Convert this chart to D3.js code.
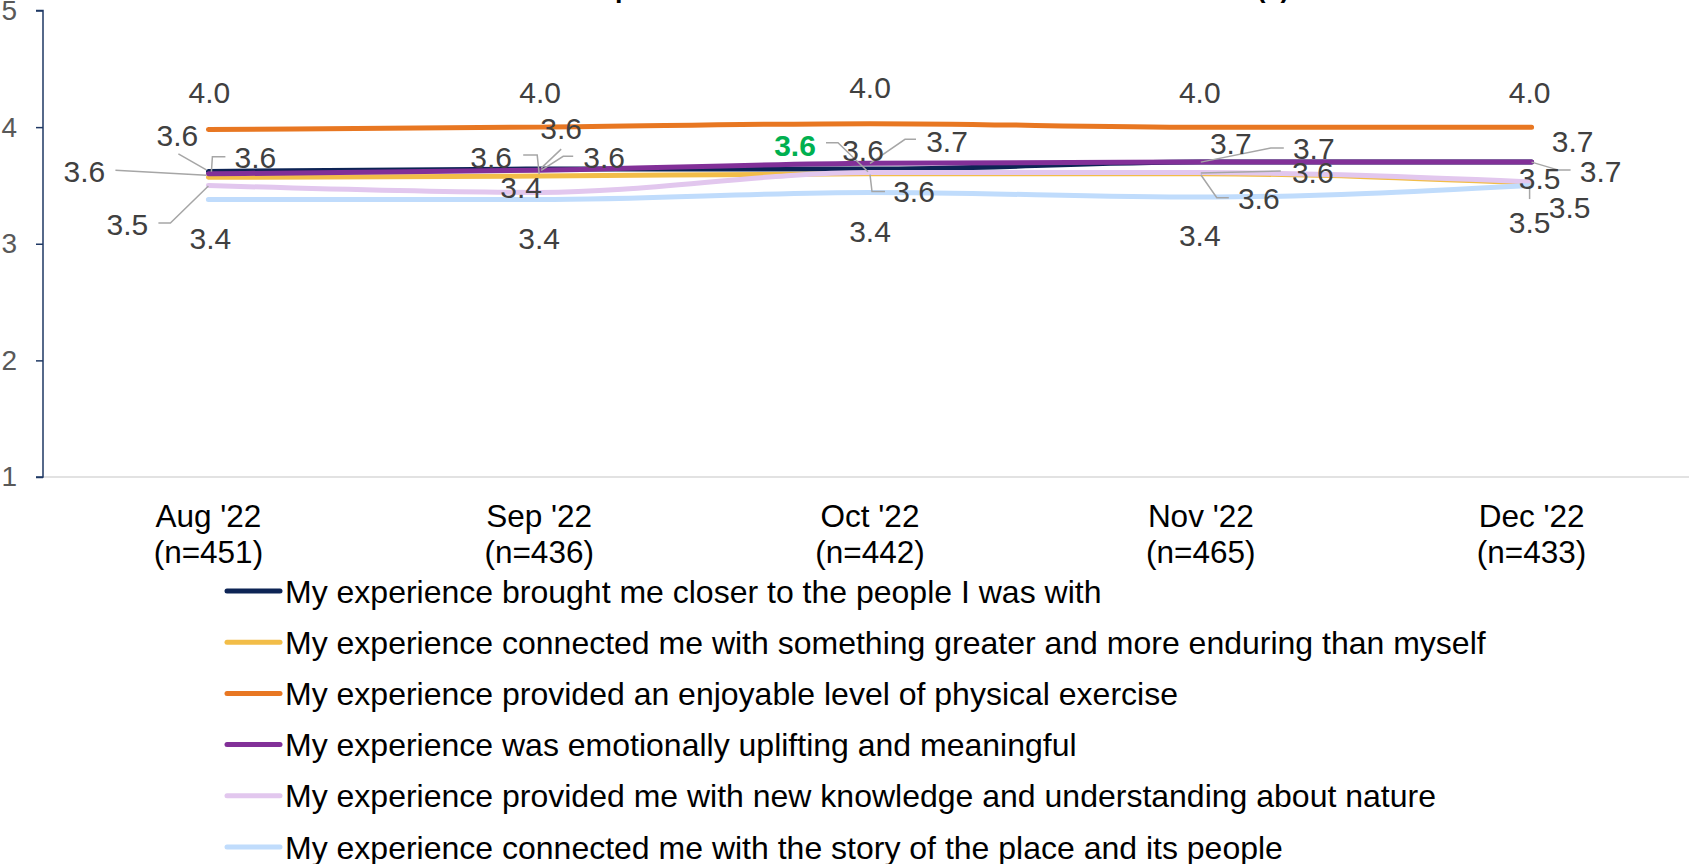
<!DOCTYPE html>
<html>
<head>
<meta charset="utf-8">
<script src="https://cdn.jsdelivr.net/npm/d3@7"></script>
<style>
  html, body { margin: 0; padding: 0; background: #ffffff; overflow: hidden; }
  svg { display: block; font-family: "Liberation Sans", Arial, sans-serif; }
</style>
</head>
<body>
<svg id="chart" width="1689" height="864"></svg>
<script>
// ---------------- DATA ----------------
const titleText = "Impact Statements \u2013 Mean Score Across All Visitors (5)";
const categories = ["Aug '22", "Sep '22", "Oct '22", "Nov '22", "Dec '22"];
const sampleSizes = ["(n=451)", "(n=436)", "(n=442)", "(n=465)", "(n=433)"];
const seriesNames = [
  "My experience brought me closer to the people I was with",
  "My experience connected me with something greater and more enduring than myself",
  "My experience provided an enjoyable level of physical exercise",
  "My experience was emotionally uplifting and meaningful",
  "My experience provided me with new knowledge and understanding about nature",
  "My experience connected me with the story of the place and its people"
];
const closerValues    = [3.62, 3.64, 3.64, 3.70, 3.70];
const greaterValues   = [3.57, 3.58, 3.60, 3.60, 3.52];
const exerciseValues  = [3.98, 4.00, 4.03, 4.00, 4.00];
const upliftingValues = [3.60, 3.63, 3.69, 3.70, 3.70];
const knowledgeValues = [3.50, 3.44, 3.61, 3.61, 3.53];
const storyValues     = [3.38, 3.38, 3.44, 3.40, 3.50];
const yTicks = [1, 2, 3, 4, 5];

// ---------------- STYLE / LAYOUT ----------------
const seriesColors = ["#0d2455", "#f2bd48", "#e87722", "#823098", "#e2c7ee", "#c0dcfc"];
const seriesValues = [closerValues, greaterValues, exerciseValues, upliftingValues, knowledgeValues, storyValues];

// label placement relative to each point: [dx, dy, leader points relative to point]
const labelLayout = [
  [[-31,-36,[[-30,-17.5],[-2,-1.5]]], [22,-41,[[22,-20],[2,-1]]], [-7,-19,null], [30,-19,null], [41,-21,null]],
  [[-124,-6,[[-93,-7],[-2,-2]]], [-48,-19,[[-16,-21],[-2,-21],[0,-2]]], [-75,-29,[[-44,-31],[-32,-31],[-2,-2]]], [58,24,[[28,24],[16,24],[0,1]]], [8,-5,null]],
  [[1,-37.5,null], [1,-35,null], [0,-36,null], [-1,-35,null], [-2,-35,null]],
  [[47,-17,[[17,-17],[4,-17],[3,-2]]], [65,-13,[[34,-14],[24,-14],[2,0]]], [77,-22,[[46,-24],[35,-24],[0,0]]], [113,-14,[[83,-14],[70,-14],[0,0]]], [69,9,[[39,8],[27,8],[0,0]]]],
  [[-81,38.5,[[-50,37.5],[-38,37.5],[0,0.5]]], [-18,-5,null], [44,19,[[15,19],[2,19],[0,2]]], [112,-0.6,[[80,-1.6],[0,0.4]]], [38,25,null]],
  [[2,38.5,null], [0,39,null], [0,38.5,null], [-1,38,null], [-2,37,[[-2,13.6],[-2,0.6]]]]
];
const highlight = { series: 1, index: 2, color: "#00b050" };

const svg = d3.select("#chart");
const plotLeft = 43, plotRight = 1697, plotTop = 10.5, plotBottom = 477;

const x = d3.scaleBand().domain(categories).range([plotLeft, plotRight]).padding(0);
const y = d3.scaleLinear().domain([1, 5]).range([plotBottom, plotTop]);
const cx = c => x(c) + x.bandwidth() / 2;

// ---------------- TITLE (cut off at top) ----------------
const title = svg.append("text")
  .attr("font-weight", "bold")
  .attr("font-size", 30)
  .attr("fill", "#000")
  .attr("y", -3)
  .text(titleText);
{
  const node = title.node();
  const pIdx = titleText.indexOf("p");
  const parIdx = titleText.lastIndexOf("(");
  let d = node.getSubStringLength(pIdx, parIdx - pIdx);
  const fs = Math.max(20, Math.min(44, 30 * 642 / d));
  title.attr("font-size", fs);
  const off = node.getSubStringLength(0, pIdx);
  title.attr("x", 615 - off);
}

// ---------------- AXES ----------------
// x baseline
svg.append("line")
  .attr("x1", plotLeft).attr("x2", 1689)
  .attr("y1", y(1)).attr("y2", y(1))
  .attr("stroke", "#d9d9d9").attr("stroke-width", 1.5);

const yAxis = d3.axisLeft(y).tickValues(yTicks).tickSize(7).tickPadding(19).tickFormat(d3.format("d"));
const yG = svg.append("g").attr("transform", `translate(${plotLeft},0)`).call(yAxis);
yG.select(".domain").attr("stroke", "#1f3864").attr("stroke-width", 1.5).attr("d", `M-7,${y(5)}H0V${y(1)}H-7`);
yG.selectAll(".tick line").attr("stroke", "#1f3864").attr("stroke-width", 1.5);
yG.selectAll(".tick text")
  .attr("font-size", 28).attr("fill", "#595959")
  .attr("font-family", "'Liberation Sans', Arial, sans-serif");

// category labels
const xl = svg.append("g");
categories.forEach((c, i) => {
  const t = xl.append("text")
    .attr("text-anchor", "middle")
    .attr("font-size", 31.5)
    .attr("fill", "#000");
  t.append("tspan").attr("x", cx(c)).attr("y", 527).text(c);
  t.append("tspan").attr("x", cx(c)).attr("y", 563).text(sampleSizes[i]);
});

// ---------------- LINES ----------------
const line = d3.line()
  .x((d, i) => cx(categories[i]))
  .y(d => y(d))
  .curve(d3.curveMonotoneX);

const linesG = svg.append("g");
seriesValues.forEach((vals, s) => {
  linesG.append("path")
    .attr("d", line(vals))
    .attr("fill", "none")
    .attr("stroke", seriesColors[s])
    .attr("stroke-width", 5)
    .attr("stroke-linecap", "round")
    .attr("stroke-linejoin", "round");
});

// ---------------- DATA LABELS ----------------
const fmt = d3.format(".1f");
const leaderG = svg.append("g");
const labelG = svg.append("g");
seriesValues.forEach((vals, s) => {
  vals.forEach((v, i) => {
    const px = cx(categories[i]), py = y(v);
    const [dx, dy, leader] = labelLayout[s][i];
    if (leader) {
      leaderG.append("path")
        .attr("d", d3.line()(leader.map(p => [px + p[0], py + p[1]])))
        .attr("fill", "none")
        .attr("stroke", "#a6a6a6")
        .attr("stroke-width", 1.5);
    }
    const isHi = highlight.series === s && highlight.index === i;
    labelG.append("text")
      .attr("x", px + dx)
      .attr("y", py + dy)
      .attr("dy", "0.36em")
      .attr("text-anchor", "middle")
      .attr("font-size", 30)
      .attr("font-weight", isHi ? "bold" : "normal")
      .attr("fill", isHi ? highlight.color : "#404040")
      .text(fmt(v));
  });
});

// ---------------- LEGEND ----------------
const legendG = svg.append("g");
const legendTop = 591, legendStep = 51.2;
seriesNames.forEach((name, s) => {
  const ly = legendTop + s * legendStep;
  legendG.append("line")
    .attr("x1", 227).attr("x2", 280)
    .attr("y1", ly).attr("y2", ly)
    .attr("stroke", seriesColors[s])
    .attr("stroke-width", 5)
    .attr("stroke-linecap", "round");
  legendG.append("text")
    .attr("x", 285).attr("y", ly)
    .attr("dy", "0.36em")
    .attr("font-size", 32)
    .attr("fill", "#000")
    .text(name);
});
</script>
</body>
</html>
